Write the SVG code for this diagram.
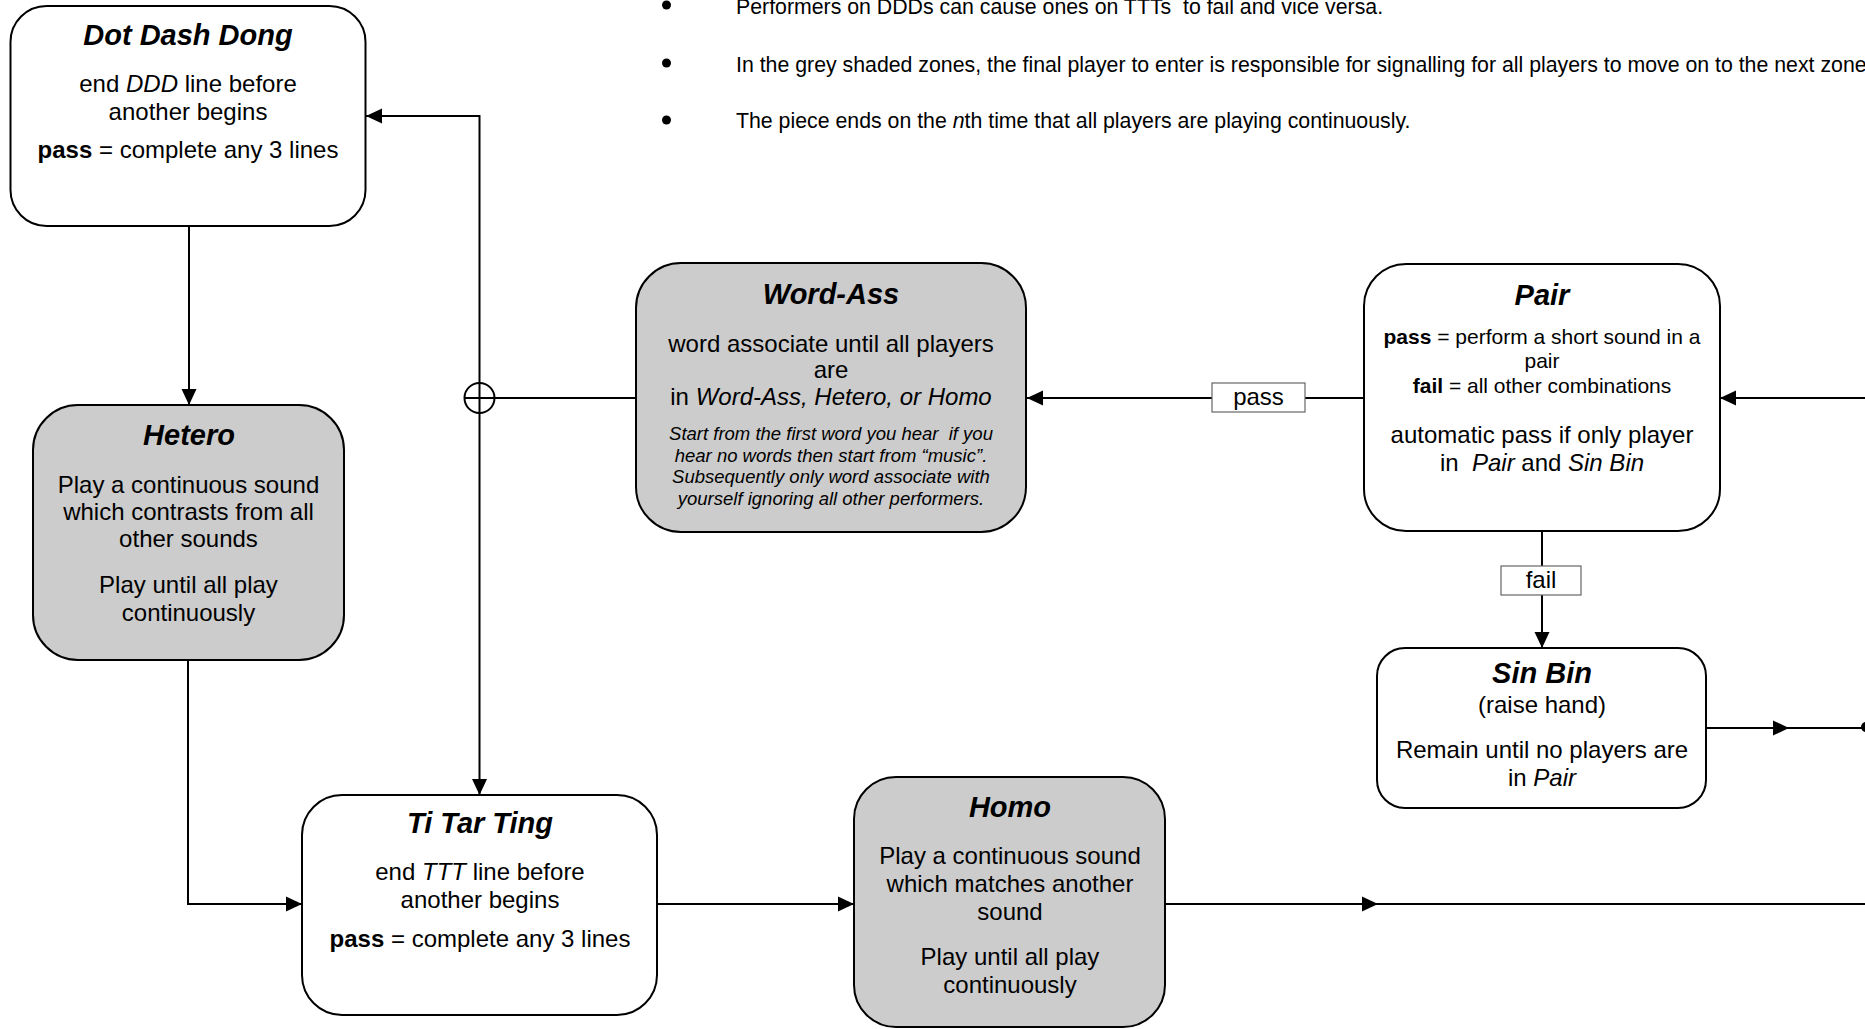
<svg xmlns="http://www.w3.org/2000/svg" width="1865" height="1029" viewBox="0 0 1865 1029">
<style>
  text { font-family: "Liberation Sans", Arial, Helvetica, sans-serif; fill: #000; white-space: pre; }
  .c { text-anchor: middle; }
  .title { font-size: 29px; font-weight: bold; font-style: italic; }
  .body { font-size: 24px; }
  .mid { font-size: 21px; }
  .note { font-size: 18.5px; font-style: italic; }
  .hdr { font-size: 21.3px; }
  .box { fill: #ffffff; stroke: #000; stroke-width: 2; }
  .grey { fill: #cccccc; }
  .conn { fill: none; stroke: #000; stroke-width: 2; }
  .lbl { fill: #ffffff; stroke: #666; stroke-width: 1.2; }
  .it { font-style: italic; }
  .b { font-weight: bold; }
</style>
<defs>
  <marker id="ah" markerWidth="17" markerHeight="16" refX="16" refY="8" orient="auto" markerUnits="userSpaceOnUse">
    <path d="M0,0.5 L16,8 L0,15.5 z" fill="#000"/>
  </marker>
</defs>
<rect x="0" y="0" width="1865" height="1029" fill="#fff"/>

<g id="notes">
  <circle cx="666.5" cy="5" r="4.5" fill="#000"/>
  <circle cx="666.5" cy="63" r="4.5" fill="#000"/>
  <circle cx="666.5" cy="120" r="4.5" fill="#000"/>
  <text class="hdr" x="736" y="14">Performers on DDDs can cause ones on TTTs  to fail and vice versa.</text>
  <text class="hdr" x="736" y="72">In the grey shaded zones, the final player to enter is responsible for signalling for all players to move on to the next zone.</text>
  <text class="hdr" x="736" y="128">The piece ends on the <tspan class="it">n</tspan>th time that all players are playing continuously.</text>
</g>

<g id="connectors">
  <path class="conn" d="M189,226 V405" marker-end="url(#ah)"/>
  <path class="conn" d="M188,660 V904 H302" marker-end="url(#ah)"/>
  <path class="conn" d="M657,904 H854" marker-end="url(#ah)"/>
  <path class="conn" d="M1165,904 H1378" marker-end="url(#ah)"/>
  <path class="conn" d="M1378,904 H1865"/>
  <path class="conn" d="M636,398 H464"/>
  <circle class="conn" cx="479.5" cy="398" r="15"/>
  <path class="conn" d="M479.5,398 V795" marker-end="url(#ah)"/>
  <path class="conn" d="M479.5,398 V116 H366" marker-end="url(#ah)"/>
  <path class="conn" d="M1364,398 H1027" marker-end="url(#ah)"/>
  <rect class="lbl" x="1212" y="383" width="93" height="29"/>
  <text class="body c" x="1258.5" y="405">pass</text>
  <path class="conn" d="M1865,398 H1720" marker-end="url(#ah)"/>
  <path class="conn" d="M1542,531 V648" marker-end="url(#ah)"/>
  <rect class="lbl" x="1501" y="566" width="80" height="29"/>
  <text class="body c" x="1541" y="588">fail</text>
  <path class="conn" d="M1706,728 H1789" marker-end="url(#ah)"/>
  <path class="conn" d="M1789,728 H1862"/>
  <circle cx="1866" cy="727" r="5" fill="#000"/>
</g>

<g id="dot-dash-dong">
  <rect class="box" x="10.5" y="6" width="355" height="220" rx="36" ry="36"/>
  <text class="title c" x="188" y="45">Dot Dash Dong</text>
  <text class="body c" x="188" y="92">end <tspan class="it">DDD</tspan> line before</text>
  <text class="body c" x="188" y="120">another begins</text>
  <text class="body c" x="188" y="158"><tspan class="b">pass</tspan> = complete any 3 lines</text>
</g>

<g id="hetero">
  <rect class="box grey" x="33" y="405" width="311" height="255" rx="45" ry="45"/>
  <text class="title c" x="189" y="445">Hetero</text>
  <text class="body c" x="188.5" y="493">Play a continuous sound</text>
  <text class="body c" x="188.5" y="520">which contrasts from all</text>
  <text class="body c" x="188.5" y="547">other sounds</text>
  <text class="body c" x="188.5" y="593">Play until all play</text>
  <text class="body c" x="188.5" y="621">continuously</text>
</g>

<g id="word-ass">
  <rect class="box grey" x="636" y="263" width="390" height="269" rx="45" ry="45"/>
  <text class="title c" x="831" y="304">Word-Ass</text>
  <text class="body c" x="831" y="352">word associate until all players</text>
  <text class="body c" x="831" y="378">are</text>
  <text class="body c" x="831" y="405">in <tspan class="it">Word-Ass, Hetero, or Homo</tspan></text>
  <text class="note c" x="831" y="440">Start from the first word you hear  if you</text>
  <text class="note c" x="831" y="462">hear no words then start from “music”.</text>
  <text class="note c" x="831" y="483">Subsequently only word associate with</text>
  <text class="note c" x="831" y="505">yourself ignoring all other performers.</text>
</g>

<g id="pair">
  <rect class="box" x="1364" y="264" width="356" height="267" rx="42" ry="42"/>
  <text class="title c" x="1542" y="305">Pair</text>
  <text class="mid c" x="1542" y="344"><tspan class="b">pass</tspan> = perform a short sound in a</text>
  <text class="mid c" x="1542" y="368">pair</text>
  <text class="mid c" x="1542" y="393"><tspan class="b">fail</tspan> = all other combinations</text>
  <text class="body c" x="1542" y="443">automatic pass if only player</text>
  <text class="body c" x="1542" y="471">in  <tspan class="it">Pair</tspan> and <tspan class="it">Sin Bin</tspan></text>
</g>

<g id="sin-bin">
  <rect class="box" x="1377" y="648" width="329" height="160" rx="28" ry="28"/>
  <text class="title c" x="1542" y="683">Sin Bin</text>
  <text class="body c" x="1542" y="713">(raise hand)</text>
  <text class="body c" x="1542" y="758">Remain until no players are</text>
  <text class="body c" x="1542" y="786">in <tspan class="it">Pair</tspan></text>
</g>

<g id="ti-tar-ting">
  <rect class="box" x="302" y="795" width="355" height="220" rx="40" ry="40"/>
  <text class="title c" x="480" y="833">Ti Tar Ting</text>
  <text class="body c" x="480" y="880">end <tspan class="it">TTT</tspan> line before</text>
  <text class="body c" x="480" y="908">another begins</text>
  <text class="body c" x="480" y="947"><tspan class="b">pass</tspan> = complete any 3 lines</text>
</g>

<g id="homo">
  <rect class="box grey" x="854" y="777" width="311" height="250" rx="42" ry="42"/>
  <text class="title c" x="1010" y="817">Homo</text>
  <text class="body c" x="1010" y="864">Play a continuous sound</text>
  <text class="body c" x="1010" y="892">which matches another</text>
  <text class="body c" x="1010" y="920">sound</text>
  <text class="body c" x="1010" y="965">Play until all play</text>
  <text class="body c" x="1010" y="993">continuously</text>
</g>
</svg>
